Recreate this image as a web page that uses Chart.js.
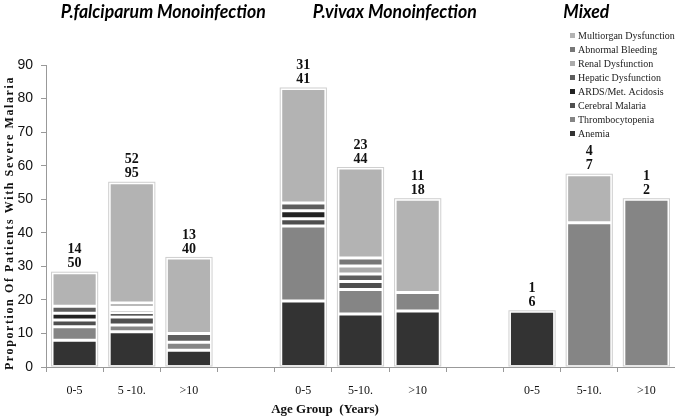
<!DOCTYPE html>
<html>
<head>
<meta charset="utf-8">
<script src="https://cdn.jsdelivr.net/npm/chart.js@4.4.0/dist/chart.umd.min.js"></script>
<style>
  html, body { margin: 0; padding: 0; background: #fff; }
  #wrap { width: 675px; height: 420px; position: relative; }
</style>
</head>
<body>
<div id="wrap"><canvas id="malariaChart"></canvas></div>
<script>
// age groups per infection type (blank = gap between groups)
const ageGroups = ['0-5', '5 -10.', '>10', '', '0-5', '5-10.', '>10', '', '0-5', '5-10.', '>10'];
const groupTitles = ['P.falciparum Monoinfection', 'P.vivax Monoinfection', 'Mixed'];

// numbers printed above each bar (two lines)
const topCounts = ['14', '52', '13', '', '31', '23', '11', '', '1', '4', '1'];
const bottomCounts = ['50', '95', '40', '', '41', '44', '18', '', '6', '7', '2'];

// stacked segments, bottom to top (proportion %)
const anemia       = [8,    10.5, 5,    null, 19.7, 15.8, 16.7, null, 16.6, null, null];
const thrombo      = [4,    2,    2.4,  null, 22.3, 7.3,  5.5,  null, null, 43,   50];
const cerebral     = [2,    2.4,  null, null, 2.2,  2.4,  null, null, null, null, null];
const ards         = [2,    1.3,  null, null, 2.4,  null, null, null, null, null, null];
const hepatic      = [2.1,  0.9,  2.6,  null, 2.3,  2.2,  null, null, null, null, null];
const renal        = [null, 0.8,  null, null, null, 2.4,  null, null, null, null, null];
const bleeding     = [null, 1.2,  null, null, null, 2.4,  null, null, null, null, null];
const multiorgan   = [10,   35.8, 22.5, null, 34.1, 26.8, 27.8, null, null, 14.3, null];

const seriesNames = ['Anemia', 'Thrombocytopenia', 'Cerebral Malaria', 'ARDS/Met. Acidosis',
  'Hepatic Dysfunction', 'Renal Dysfunction', 'Abnormal Bleeding', 'Multiorgan Dysfunction'];
const seriesData = [anemia, thrombo, cerebral, ards, hepatic, renal, bleeding, multiorgan];
const seriesColors = ['#333333', '#858585', '#4f4f4f', '#222222', '#5e5e5e', '#ababab', '#777777', '#b3b3b3'];

const SERIF = '"Liberation Serif", "Times New Roman", serif';

const extrasPlugin = {
  id: 'extras',
  afterDatasetsDraw(chart) {
    const ctx = chart.ctx;
    // outline round each stack + counts above
    ageGroups.forEach((g, i) => {
      let top = null, bottom = null, left = null, width = null;
      chart.data.datasets.forEach((ds, d) => {
        const el = chart.getDatasetMeta(d).data[i];
        if (!el || ds.data[i] == null) return;
        const p = el.getProps(['x', 'y', 'base', 'width'], true);
        top = top === null ? p.y : Math.min(top, p.y);
        bottom = bottom === null ? p.base : Math.max(bottom, p.base);
        left = p.x - p.width / 2; width = p.width;
      });
      if (top === null) return;
      ctx.save();
      ctx.strokeStyle = '#cfcfcf';
      ctx.lineWidth = 1;
      ctx.strokeRect(left - 0.5, top - 0.5, width + 1, bottom - top);
      ctx.fillStyle = '#111';
      ctx.font = 'bold 14px ' + SERIF;
      ctx.textAlign = 'center';
      ctx.textBaseline = 'middle';
      const cx = left + width / 2;
      ctx.fillText(topCounts[i], cx, top - 23);
      ctx.fillText(bottomCounts[i], cx, top - 9);
      ctx.restore();
    });
  },
  afterDraw(chart) {
    const ctx = chart.ctx;
    const x = chart.scales.x;
    ctx.save();
    // group titles
    ctx.fillStyle = '#000';
    ctx.font = 'italic bold 18px Lato, "Liberation Sans", sans-serif';
    ctx.textAlign = 'center';
    ctx.textBaseline = 'middle';
    const anchors = [1.55, 5.6, 8.95];
    const widths = [205, 164, 46];
    groupTitles.forEach((t, k) => {
      ctx.fillText(t, x.getPixelForValue(anchors[k]), 12, widths[k]);
    });
    // legend, reversed
    ctx.font = '10px ' + SERIF;
    ctx.textAlign = 'left';
    for (let k = seriesNames.length - 1, row = 0; k >= 0; k--, row++) {
      const ly = 36 + row * 14;
      ctx.fillStyle = seriesColors[k];
      ctx.fillRect(570, ly - 3, 5, 5);
      ctx.fillStyle = '#222';
      ctx.fillText(seriesNames[k], 578, ly);
    }
    // axis titles
    ctx.fillStyle = '#111';
    ctx.font = 'bold 13px ' + SERIF;
    ctx.textAlign = 'center';
    ctx.fillText('Age Group  (Years)', 325, 410);
    ctx.translate(10, 223);
    ctx.rotate(-Math.PI / 2);
    ctx.font = 'bold 12px ' + SERIF;
    ctx.letterSpacing = '1.6px';
    ctx.fillText('Proportion Of Patients With Severe Malaria', 0, 0, 298);
    ctx.restore();
  }
};

const ctx = document.getElementById('malariaChart').getContext('2d');
new Chart(ctx, {
  type: 'bar',
  data: {
    labels: ageGroups,
    datasets: seriesNames.map((name, k) => ({
      label: name,
      data: seriesData[k],
      backgroundColor: seriesColors[k],
      borderColor: '#ffffff',
      borderWidth: 1.5,
      borderSkipped: false,
      categoryPercentage: 1,
      barPercentage: 0.79
    }))
  },
  options: {
    responsive: true,
    maintainAspectRatio: false,
    animation: false,
    layout: { padding: { top: 65, right: 0, left: 0, bottom: 0 } },
    plugins: { legend: { display: false }, tooltip: { enabled: false } },
    scales: {
      x: {
        stacked: true,
        afterFit: s => { s.height = 53; },
        grid: { drawOnChartArea: false, tickLength: 5, tickColor: '#999', offset: true },
        border: { color: '#999' },
        ticks: { color: '#111', padding: 12, font: { family: SERIF, size: 12 }, maxRotation: 0 }
      },
      y: {
        stacked: true,
        min: 0, max: 90,
        afterFit: s => { s.width = 46; },
        grid: { drawOnChartArea: false, tickLength: 5, tickColor: '#999' },
        border: { color: '#999' },
        ticks: { stepSize: 10, color: '#111', padding: 8, font: { family: '"Liberation Sans", Arial, sans-serif', size: 14 } }
      }
    }
  },
  plugins: [extrasPlugin]
});
</script>
</body>
</html>
